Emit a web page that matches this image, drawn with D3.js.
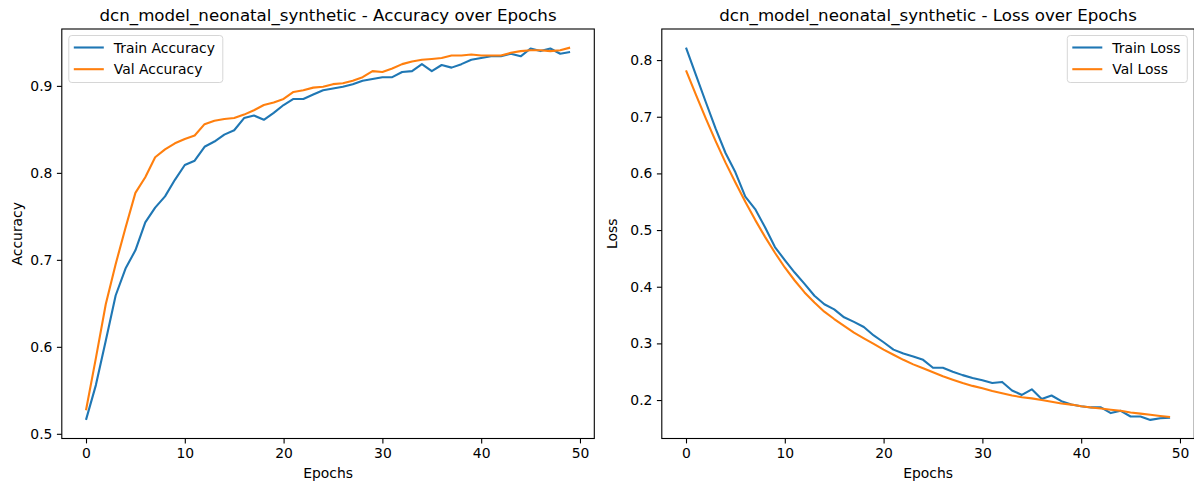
<!DOCTYPE html>
<html>
<head>
<meta charset="utf-8">
<script src="https://cdn.jsdelivr.net/npm/d3@7"></script>
<style>
  body { margin: 0; background: #fff; }
  svg { display: block; font-family: "DejaVu Sans", sans-serif; }
</style>
</head>
<body>
<svg id="chart"></svg>
<script>
const WIDTH = 1194;
const HEIGHT = 484;
const MODEL = "dcn_model_neonatal_synthetic";

const epochs = d3.range(50);

const trainAccuracy = [
    0.516, 0.556, 0.607, 0.659, 0.690, 0.711, 0.743, 0.760, 0.773, 0.792,
    0.809, 0.814, 0.830, 0.836, 0.844, 0.849, 0.863, 0.866, 0.861, 0.869,
    0.878, 0.885, 0.885, 0.890, 0.895, 0.897, 0.899, 0.902, 0.906, 0.908,
    0.910, 0.910, 0.916, 0.917, 0.925, 0.917, 0.924, 0.921, 0.925, 0.930,
    0.932, 0.934, 0.934, 0.937, 0.934, 0.943, 0.940, 0.943, 0.937, 0.939
];
const valAccuracy = [
    0.527, 0.587, 0.649, 0.695, 0.737, 0.777, 0.795, 0.818, 0.827, 0.834,
    0.839, 0.843, 0.856, 0.860, 0.862, 0.863, 0.867, 0.872, 0.878, 0.881,
    0.885, 0.893, 0.895, 0.898, 0.899, 0.902, 0.903, 0.906, 0.910, 0.917,
    0.916, 0.920, 0.925, 0.928, 0.930, 0.931, 0.932, 0.935, 0.935, 0.936,
    0.935, 0.935, 0.935, 0.938, 0.940, 0.941, 0.941, 0.940, 0.941, 0.944
];
const trainLoss = [
    0.822, 0.774, 0.726, 0.679, 0.636, 0.602, 0.559, 0.537, 0.505, 0.470,
    0.447, 0.425, 0.405, 0.384, 0.369, 0.360, 0.346, 0.338, 0.329, 0.314,
    0.302, 0.289, 0.282, 0.277, 0.271, 0.257, 0.257, 0.250, 0.244, 0.239,
    0.235, 0.230, 0.232, 0.217, 0.209, 0.219, 0.202, 0.208, 0.198, 0.192,
    0.189, 0.187, 0.187, 0.177, 0.181, 0.171, 0.171, 0.165, 0.168, 0.169
];
const valLoss = [
    0.782, 0.739, 0.697, 0.657, 0.619, 0.584, 0.550, 0.518, 0.488, 0.460,
    0.434, 0.411, 0.390, 0.372, 0.356, 0.343, 0.331, 0.319, 0.309, 0.299,
    0.289, 0.280, 0.271, 0.263, 0.256, 0.249, 0.242, 0.236, 0.230, 0.225,
    0.221, 0.216, 0.212, 0.208, 0.205, 0.203, 0.200, 0.197, 0.194, 0.192,
    0.189, 0.187, 0.185, 0.183, 0.181, 0.178, 0.176, 0.174, 0.172, 0.170
];

const xTicks = [0, 10, 20, 30, 40, 50];
const accuracyTicks = [0.5, 0.6, 0.7, 0.8, 0.9];
const lossTicks = [0.2, 0.3, 0.4, 0.5, 0.6, 0.7, 0.8];

const BLUE = "#1f77b4";
const ORANGE = "#ff7f0e";

const svg = d3.select("#chart")
    .attr("width", WIDTH)
    .attr("height", HEIGHT);

svg.append("rect")
    .attr("width", WIDTH)
    .attr("height", HEIGHT)
    .attr("fill", "#fff");

// matplotlib-style auto limits: 5% margin either side
const padded = (lo, hi) => {
    const m = (hi - lo) * 0.05;
    return [lo - m, hi + m];
};

const drawPanel = (opts) => {
    const w = 532.5, h = 409.5;
    const g = svg.append("g")
        .attr("transform", `translate(${opts.left}, 29)`);

    const x = d3.scaleLinear()
        .domain(padded(0, epochs.length - 1))
        .range([0, w]);

    const all = opts.series.flatMap(s => s.values);
    const y = d3.scaleLinear()
        .domain(padded(d3.min(all), d3.max(all)))
        .range([h, 0]);

    // lines
    const line = d3.line()
        .x((d, i) => x(epochs[i]))
        .y(d => y(d));

    opts.series.forEach(s => {
        g.append("path")
            .datum(s.values)
            .attr("fill", "none")
            .attr("stroke", s.color)
            .attr("stroke-width", 2.1)
            .attr("stroke-linejoin", "round")
            .attr("stroke-linecap", "butt")
            .attr("d", line);
    });

    // axes
    const xAxis = g.append("g")
        .attr("transform", `translate(0, ${h})`)
        .call(d3.axisBottom(x).tickValues(xTicks).tickSize(4.9).tickPadding(4.5).tickFormat(d3.format("d")));
    const yAxis = g.append("g")
        .call(d3.axisLeft(y).tickValues(opts.yTicks).tickSize(4.9).tickPadding(4.5).tickFormat(d3.format(".1f")));

    [xAxis, yAxis].forEach(a => {
        a.select(".domain").remove();
        a.selectAll(".tick line").attr("stroke", "#000").attr("stroke-width", 1.1);
        a.selectAll(".tick text")
            .attr("fill", "#000")
            .style("font-size", "13.9px")
            .style("font-family", "DejaVu Sans");
    });

    // frame
    g.append("rect")
        .attr("width", w)
        .attr("height", h)
        .attr("fill", "none")
        .attr("stroke", "#000")
        .attr("stroke-width", 1.1);

    // title + labels
    g.append("text")
        .attr("x", w / 2)
        .attr("y", -8.5)
        .attr("text-anchor", "middle")
        .style("font-size", "16.67px")
        .text(opts.title);

    g.append("text")
        .attr("x", w / 2)
        .attr("y", h + 39)
        .attr("text-anchor", "middle")
        .style("font-size", "13.9px")
        .text("Epochs");

    g.append("text")
        .attr("transform", `translate(${opts.yLabelX}, ${h / 2}) rotate(-90)`)
        .attr("text-anchor", "middle")
        .style("font-size", "13.9px")
        .text(opts.yLabel);

    // legend
    const lg = g.append("g")
        .attr("transform", `translate(${opts.legendX}, 6.5)`);
    lg.append("rect")
        .attr("width", opts.legendW)
        .attr("height", 47)
        .attr("rx", 3)
        .attr("fill", "#fff")
        .attr("fill-opacity", 0.8)
        .attr("stroke", "#d6d6d6")
        .attr("stroke-width", 1);
    opts.series.forEach((s, i) => {
        const cy = 12 + i * 21.7;
        lg.append("line")
            .attr("x1", 5)
            .attr("x2", 35)
            .attr("y1", cy)
            .attr("y2", cy)
            .attr("stroke", s.color)
            .attr("stroke-width", 2.1);
        lg.append("text")
            .attr("x", 45)
            .attr("y", cy)
            .attr("dy", "0.36em")
            .style("font-size", "13.9px")
            .attr("fill", "#000")
            .text(s.name);
    });
};

drawPanel({
    left: 61.8,
    title: `${MODEL} - Accuracy over Epochs`,
    yLabel: "Accuracy",
    yLabelX: -40,
    yTicks: accuracyTicks,
    legendX: 7,
    legendW: 154,
    series: [
        { name: "Train Accuracy", values: trainAccuracy, color: BLUE },
        { name: "Val Accuracy", values: valAccuracy, color: ORANGE }
    ]
});

drawPanel({
    left: 661.8,
    title: `${MODEL} - Loss over Epochs`,
    yLabel: "Loss",
    yLabelX: -44.5,
    yTicks: lossTicks,
    legendX: 405.5,
    legendW: 120,
    series: [
        { name: "Train Loss", values: trainLoss, color: BLUE },
        { name: "Val Loss", values: valLoss, color: ORANGE }
    ]
});
</script>
</body>
</html>
